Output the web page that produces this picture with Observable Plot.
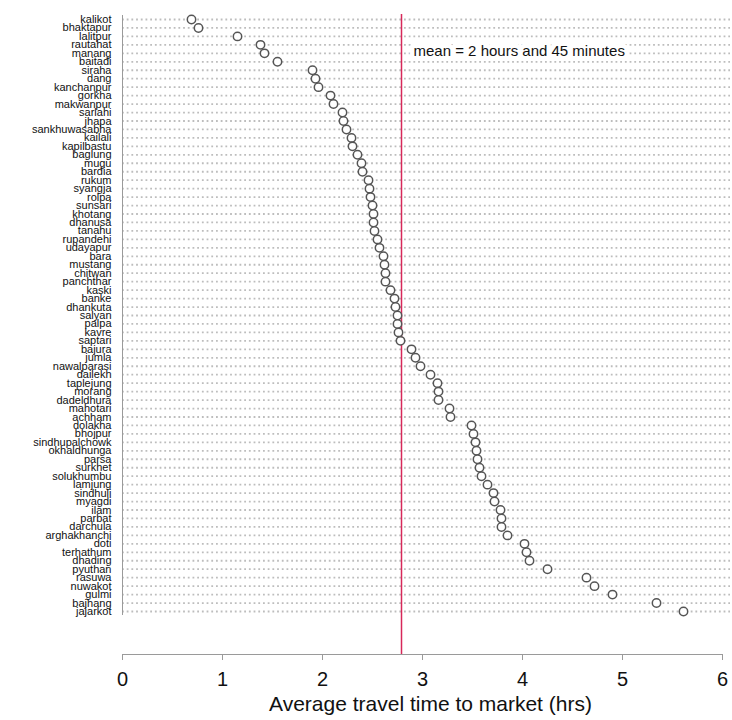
<!DOCTYPE html>
<html>
<head>
<meta charset="utf-8">
<script src="https://cdn.jsdelivr.net/npm/d3@7"></script>
<script src="https://cdn.jsdelivr.net/npm/@observablehq/plot@0.6"></script>
<style>
  body { margin: 0; background: white; }
</style>
</head>
<body>
<div id="chart"></div>
<script>
const districts = [
  "kalikot","bhaktapur","lalitpur","rautahat","manang","baitadi","siraha","dang",
  "kanchanpur","gorkha","makwanpur","sarlahi","jhapa","sankhuwasabha","kailali",
  "kapilbastu","baglung","mugu","bardia","rukum","syangja","rolpa","sunsari",
  "khotang","dhanusa","tanahu","rupandehi","udayapur","bara","mustang","chitwan",
  "panchthar","kaski","banke","dhankuta","salyan","palpa","kavre","saptari",
  "bajura","jumla","nawalparasi","dailekh","taplejung","morang","dadeldhura",
  "mahotari","achham","dolakha","bhojpur","sindhupalchowk","okhaldhunga","parsa",
  "surkhet","solukhumbu","lamjung","sindhuli","myagdi","ilam","parbat","darchula",
  "arghakhanchi","doti","terhathum","dhading","pyuthan","rasuwa","nuwakot","gulmi",
  "bajhang","jajarkot"
];
const hours = [
  0.69, 0.76, 1.15, 1.38, 1.42, 1.55, 1.90, 1.93,
  1.96, 2.08, 2.11, 2.20, 2.21, 2.24, 2.29,
  2.30, 2.35, 2.39, 2.40, 2.46, 2.47, 2.48, 2.50,
  2.51, 2.51, 2.52, 2.55, 2.57, 2.61, 2.62, 2.63,
  2.63, 2.68, 2.72, 2.73, 2.75, 2.75, 2.76, 2.78,
  2.89, 2.93, 2.98, 3.08, 3.15, 3.16, 3.16,
  3.27, 3.28, 3.49, 3.51, 3.53, 3.54, 3.55,
  3.57, 3.59, 3.65, 3.71, 3.72, 3.78, 3.79, 3.79,
  3.85, 4.02, 4.04, 4.07, 4.25, 4.64, 4.72, 4.90,
  5.34, 5.61
];
const meanHours = 2.79;
const meanLabel = "mean = 2 hours and 45 minutes";
const xTicks = [0, 1, 2, 3, 4, 5, 6];
const xTitle = "Average travel time to market (hrs)";

const data = districts.map((d, i) => ({district: d, hours: hours[i]}));

const chart = Plot.plot({
  width: 732,
  height: 720,
  marginTop: 14,
  marginBottom: 66,
  marginLeft: 122,
  marginRight: 10,
  style: {fontFamily: "'Liberation Sans', Arial, sans-serif", background: "white", color: "#111"},
  x: {domain: [0, 6]},
  y: {type: "point", domain: districts, padding: 0, insetTop: 5, insetBottom: 43},
  marks: [
    Plot.ruleY(districts, {stroke: "#bdbdbd", strokeWidth: 1.8, strokeDasharray: "1.8,2.9", insetRight: -8}),
    Plot.ruleX([{x: 0, y1: districts[0], y2: districts[districts.length - 1]}],
      {x: "x", y1: "y1", y2: "y2", stroke: "#9a9a9a", strokeWidth: 1, insetTop: -4, insetBottom: -4}),
    Plot.ruleX([meanHours], {stroke: "#d7285a", strokeWidth: 1.5}),
    Plot.text([{x: meanHours, y: districts[4], t: meanLabel}],
      {x: "x", y: "y", text: "t", textAnchor: "start", dx: 12, dy: -2, fontSize: 15,
       fill: "#111", stroke: "white", strokeWidth: 9}),
    Plot.dot(data, {x: "hours", y: "district", r: 4.2, stroke: "#555", strokeWidth: 1.5, fill: "white"}),
    Plot.frame({anchor: "bottom", stroke: "#9a9a9a"}),
    Plot.axisX(xTicks, {tickSize: 6, tickPadding: 11, fontSize: 20, stroke: "#9a9a9a", fill: "#111", label: null}),
    Plot.axisY({tickSize: 0, tickPadding: 11, fontSize: 11, fill: "#111", label: null}),
    Plot.text([xTitle], {frameAnchor: "bottom", dy: 56, dx: 8, fontSize: 21, fill: "#111"})
  ]
});
document.getElementById("chart").appendChild(chart);
</script>
</body>
</html>
